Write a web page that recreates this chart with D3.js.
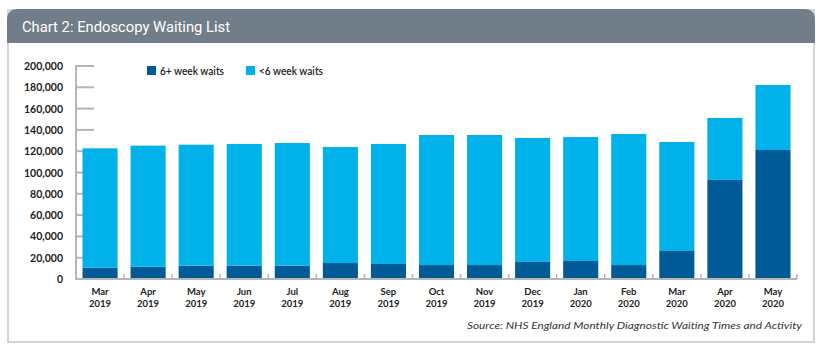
<!DOCTYPE html>
<html><head><meta charset="utf-8">
<script src="https://cdn.jsdelivr.net/npm/d3@7"></script>
<style>body{margin:0;background:#fff}svg{display:block}</style>
</head><body>
<script>
const months = ["Mar","Apr","May","Jun","Jul","Aug","Sep","Oct","Nov","Dec","Jan","Feb","Mar","Apr","May"];
const years = ["2019","2019","2019","2019","2019","2019","2019","2019","2019","2019","2020","2020","2020","2020","2020"];
const over6 = [10600,11600,12500,12500,12500,15000,14100,13100,13100,16000,16900,13100,26300,93000,121100];
const totals = [122700,125200,126100,126800,127700,123900,126800,135200,135200,132400,133300,136200,128600,151200,182200];
const under6 = totals.map((t,i)=>t-over6[i]);
const yTicks = [0,20000,40000,60000,80000,100000,120000,140000,160000,180000,200000];
const seriesNames = ["6+ week waits","<6 week waits"];
const colors = ["#005a96","#00b1ea"];

const W=828,H=351;
const svg=d3.select("body").append("svg").attr("width",W).attr("height",H);
const font="Lato, 'Noto Sans', sans-serif";

// panel
svg.append("rect").attr("x",8).attr("y",10).attr("width",806).attr("height",332)
  .attr("fill","#fff").attr("stroke","#d4d4d4").attr("stroke-width",2);
const r=11,x0=7,x1=815,yt=9,yb=43;
svg.append("path").attr("d",`M${x0},${yb}V${yt+r}Q${x0},${yt} ${x0+r},${yt}H${x1-r}Q${x1},${yt} ${x1},${yt+r}V${yb}Z`).attr("fill","#717d89");
svg.append("text").attr("x",22).attr("y",32).attr("fill","#fff").attr("font-family","Roboto, sans-serif")
  .attr("font-size",14).attr("textLength",208).attr("lengthAdjust","spacingAndGlyphs")
  .text("Chart 2: Endoscopy Waiting List");

const x=d3.scaleBand().domain(d3.range(months.length)).range([76,797]).paddingInner(0.27).paddingOuter(0.135);
const y=d3.scaleLinear().domain([0,200000]).range([279,66]);

const g=svg.append("g");
g.selectAll("line.yt").data(yTicks).join("line").attr("x1",76).attr("x2",94)
  .attr("y1",d=>y(d)).attr("y2",d=>y(d)).attr("stroke","#b5b5b5").attr("stroke-width",2);
g.selectAll("text.yl").data(yTicks).join("text").attr("x",63).attr("y",d=>y(d)+4)
  .attr("text-anchor","end").attr("font-family",font).attr("font-size",10.5).attr("font-weight",700).attr("fill","#222")
  .text(d=>d3.format(",")(d));

// bars
const stack=[over6,under6];
months.forEach((m,i)=>{
  let base=0;
  stack.forEach((s,k)=>{
    g.append("rect").attr("x",x(i)).attr("width",x.bandwidth())
      .attr("y",y(base+s[i])).attr("height",y(base)-y(base+s[i])).attr("fill",colors[k]);
    base+=s[i];
  });
});

// axes
g.append("line").attr("x1",76).attr("x2",76).attr("y1",65).attr("y2",280).attr("stroke","#b5b5b5").attr("stroke-width",2);
g.append("line").attr("x1",75).attr("x2",797).attr("y1",279).attr("y2",279).attr("stroke","#b5b5b5").attr("stroke-width",2);
const bounds=d3.range(1,months.length+1).map(i=>x(0)-x.step()*x.paddingOuter()+x.step()*i);
g.selectAll("line.xt").data(bounds).join("line").attr("x1",d=>d).attr("x2",d=>d).attr("y1",279).attr("y2",274)
  .attr("stroke","#b5b5b5").attr("stroke-width",1.5);

// x labels
months.forEach((m,i)=>{
  const cx=x(i)+x.bandwidth()/2;
  g.append("text").attr("x",cx).attr("y",295).attr("text-anchor","middle").attr("font-family",font).attr("font-size",9.5)
    .attr("font-weight",700).attr("fill","#222").text(m);
  g.append("text").attr("x",cx).attr("y",307).attr("text-anchor","middle").attr("font-family",font).attr("font-size",9.5)
    .attr("font-weight",700).attr("fill","#222").text(years[i]);
});

// legend
const lx=[147,246];
seriesNames.forEach((n,k)=>{
  svg.append("rect").attr("x",lx[k]).attr("y",66).attr("width",9).attr("height",9).attr("fill",colors[k]);
  svg.append("text").attr("x",lx[k]+13).attr("y",74.5).attr("font-family",font).attr("font-size",10.5)
    .attr("font-weight",600).attr("fill","#222").attr("textLength",64).attr("lengthAdjust","spacingAndGlyphs").text(n);
});

// source
svg.append("text").attr("x",467).attr("y",329).attr("font-family",font)
  .attr("font-size",10).attr("font-style","italic").attr("fill","#333")
  .attr("textLength",335).attr("lengthAdjust","spacingAndGlyphs")
  .text("Source: NHS England Monthly Diagnostic Waiting Times and Activity");
</script>
</body></html>
